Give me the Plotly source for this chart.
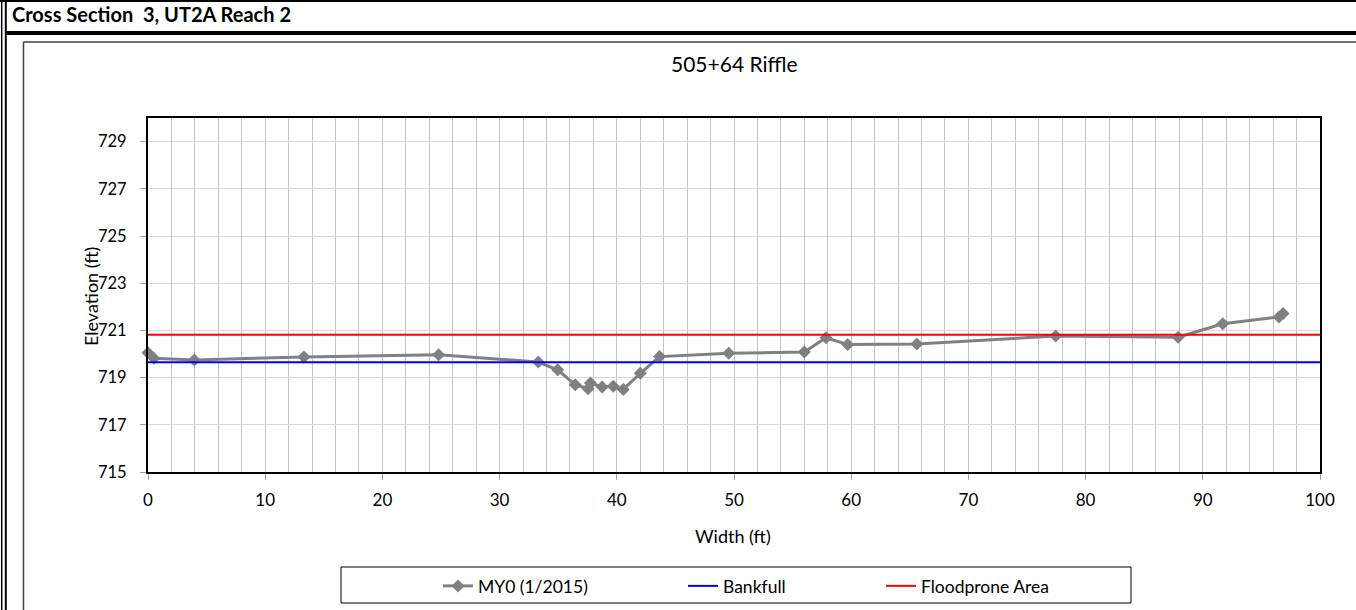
import plotly.graph_objects as go

# ---------------- data ----------------
width_ft = [0.0, 0.5, 3.95, 13.3, 24.8, 33.3, 34.95, 36.45, 37.55, 37.75, 38.75,
            39.7, 40.55, 42.0, 43.65, 49.55, 56.0, 57.85, 59.7, 65.6, 77.45,
            87.9, 91.7, 96.5, 96.85]
elev_ft = [720.05, 719.82, 719.75, 719.87, 719.97, 719.66, 719.33, 718.70, 718.53,
           718.77, 718.60, 718.63, 718.50, 719.18, 719.89, 720.03, 720.08, 720.69,
           720.40, 720.42, 720.76, 720.71, 721.28, 721.57, 721.72]
line_x = [0, 100]
bankfull_elev = 719.65
floodprone_elev = 720.82
series_names = ["MY0 (1/2015)", "Bankfull", "Floodprone Area"]
header_text = "Cross Section\u00a0 3, UT2A Reach 2"
chart_title = "505+64 Riffle"
x_title = "Width (ft)"
y_title = "Elevation (ft)"

FONT = "Lato"
W, H = 1356, 610
L, R, T, B = 148, 1320, 118, 472  # plot area in pixels

fig = go.Figure()
fig.add_trace(go.Scatter(x=width_ft, y=elev_ft, mode="lines+markers", name=series_names[0],
                         line=dict(color="#808080", width=3),
                         marker=dict(symbol="diamond", size=10, color="#808080"),
                         cliponaxis=False, legend="legend"))
fig.add_trace(go.Scatter(x=line_x, y=[bankfull_elev] * 2, mode="lines", name=series_names[1],
                         line=dict(color="#0000FF", width=2), legend="legend2"))
fig.add_trace(go.Scatter(x=line_x, y=[floodprone_elev] * 2, mode="lines", name=series_names[2],
                         line=dict(color="#FF0000", width=2), legend="legend3"))


def seg(x0, y0, x1, y1, color, w):
    return dict(type="line", xref="paper", yref="paper", xsizemode="pixel", ysizemode="pixel",
                xanchor=0, yanchor=0, x0=x0 - L, x1=x1 - L, y0=B - y0, y1=B - y1,
                line=dict(color=color, width=w), layer="above")


def rect(x0, y0, x1, y1, color, w):
    d = seg(x0, y0, x1, y1, color, w)
    d["type"] = "rect"
    return d


shapes = [
    seg(0, 1, W, 1, "#000000", 2),            # top border
    seg(1.7, 0, 1.7, H, "#000000", 1.5),      # left double border
    seg(5.8, 0, 5.8, H, "#000000", 2),
    seg(6, 33, W, 33, "#000000", 4),          # thick header rule
    seg(23.5, 42, W + 5, 42, "#404040", 1.5),  # chart area box
    seg(23.5, 42, 23.5, H + 5, "#404040", 1.5),
    rect(341, 567, 1131, 603, "#000000", 1),  # legend box
]


def ann(text, X, Y, size, xanchor="center", yanchor="middle", bold=False, angle=0):
    return dict(text=f"<b>{text}</b>" if bold else text, x=0, y=0, xref="paper", yref="paper",
                xshift=X - L, yshift=B - Y, xanchor=xanchor, yanchor=yanchor, showarrow=False,
                textangle=angle, font=dict(family=FONT, size=size, color="#000000"))


annotations = [
    ann(header_text, 10, 14, 20, xanchor="left", bold=True),
    ann(chart_title, 734, 63, 21),
    ann(x_title, 733, 536, 18),
    ann(y_title, 91, 297, 18, angle=-90),
]

legend_common = dict(yanchor="middle", xanchor="left", bgcolor="rgba(0,0,0,0)", borderwidth=0,
                     font=dict(family=FONT, size=17.5, color="#000000"), orientation="h")
leg_y = (B - 586) / (B - T)

fig.update_layout(
    width=W, height=H, autosize=False,
    margin=dict(l=L, r=W - R, t=T, b=H - B, autoexpand=False),
    paper_bgcolor="white", plot_bgcolor="white",
    font=dict(family=FONT, size=17, color="#000000"),
    showlegend=True,
    legend=dict(x=(438 - L) / (R - L), y=leg_y, **legend_common),
    legend2=dict(x=(683 - L) / (R - L), y=leg_y, **legend_common),
    legend3=dict(x=(881 - L) / (R - L), y=leg_y, **legend_common),
    shapes=shapes,
    annotations=annotations,
    xaxis=dict(range=[0, 100], tick0=0, dtick=10, showgrid=True, gridcolor="#C4C4C4", gridwidth=1,
               minor=dict(dtick=2, showgrid=True, gridcolor="#C4C4C4", gridwidth=1, ticks=""),
               showline=True, linecolor="#000000", linewidth=2, mirror=True,
               ticks="outside", ticklen=6, tickcolor="#A0A0A0", ticklabelstandoff=6,
               zeroline=False, tickfont=dict(family=FONT, size=17, color="#000000")),
    yaxis=dict(range=[715, 730], tick0=715, dtick=2, showgrid=True, gridcolor="#D9D9D9", gridwidth=1,
               showline=True, linecolor="#000000", linewidth=2, mirror=True,
               ticks="outside", ticklen=6, tickcolor="#A0A0A0", ticklabelstandoff=10,
               zeroline=False, tickfont=dict(family=FONT, size=16.5, color="#000000")),
)

fig.write_html(
    "out.html", config={"displayModeBar": False},
    post_script=("document.documentElement.style.margin='0px';"
                 "document.body.style.margin='0px';"
                 "document.documentElement.style.overflow='hidden';"
                 "document.body.style.overflow='hidden';"
                 "window.scrollTo(0,0);"))
